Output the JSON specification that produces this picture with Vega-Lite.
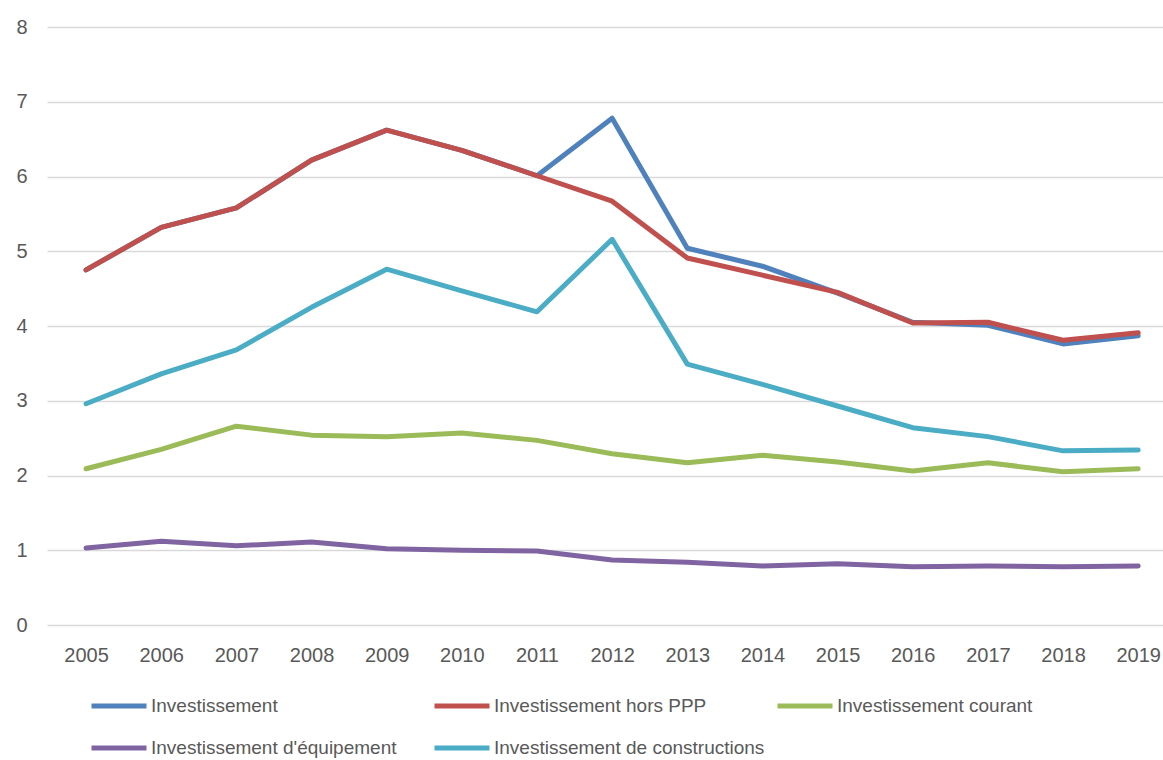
{
  "$schema": "https://vega.github.io/schema/vega-lite/v6.json",
  "width": 1116,
  "height": 598,
  "autosize": {"type": "none"},
  "padding": {"left": 47, "top": 27, "right": 0, "bottom": 135},
  "background": "white",
  "config": {
    "view": {"stroke": null},
    "font": "Liberation Sans",
    "axis": {"labelFont": "Liberation Sans", "labelColor": "#595959", "labelFontSize": 20}
  },
  "data": {
    "values": [
      {"annee": 2005, "serie": "Investissement", "valeur": 4.75},
      {"annee": 2006, "serie": "Investissement", "valeur": 5.32},
      {"annee": 2007, "serie": "Investissement", "valeur": 5.58},
      {"annee": 2008, "serie": "Investissement", "valeur": 6.22},
      {"annee": 2009, "serie": "Investissement", "valeur": 6.62},
      {"annee": 2010, "serie": "Investissement", "valeur": 6.35},
      {"annee": 2011, "serie": "Investissement", "valeur": 6.01},
      {"annee": 2012, "serie": "Investissement", "valeur": 6.78},
      {"annee": 2013, "serie": "Investissement", "valeur": 5.04},
      {"annee": 2014, "serie": "Investissement", "valeur": 4.8},
      {"annee": 2015, "serie": "Investissement", "valeur": 4.44},
      {"annee": 2016, "serie": "Investissement", "valeur": 4.05},
      {"annee": 2017, "serie": "Investissement", "valeur": 4.01},
      {"annee": 2018, "serie": "Investissement", "valeur": 3.76},
      {"annee": 2019, "serie": "Investissement", "valeur": 3.87},
      {"annee": 2005, "serie": "Investissement hors PPP", "valeur": 4.75},
      {"annee": 2006, "serie": "Investissement hors PPP", "valeur": 5.32},
      {"annee": 2007, "serie": "Investissement hors PPP", "valeur": 5.58},
      {"annee": 2008, "serie": "Investissement hors PPP", "valeur": 6.22},
      {"annee": 2009, "serie": "Investissement hors PPP", "valeur": 6.62},
      {"annee": 2010, "serie": "Investissement hors PPP", "valeur": 6.35},
      {"annee": 2011, "serie": "Investissement hors PPP", "valeur": 6.01},
      {"annee": 2012, "serie": "Investissement hors PPP", "valeur": 5.67},
      {"annee": 2013, "serie": "Investissement hors PPP", "valeur": 4.91},
      {"annee": 2014, "serie": "Investissement hors PPP", "valeur": 4.68},
      {"annee": 2015, "serie": "Investissement hors PPP", "valeur": 4.45},
      {"annee": 2016, "serie": "Investissement hors PPP", "valeur": 4.04},
      {"annee": 2017, "serie": "Investissement hors PPP", "valeur": 4.05},
      {"annee": 2018, "serie": "Investissement hors PPP", "valeur": 3.81},
      {"annee": 2019, "serie": "Investissement hors PPP", "valeur": 3.91},
      {"annee": 2005, "serie": "Investissement courant", "valeur": 2.09},
      {"annee": 2006, "serie": "Investissement courant", "valeur": 2.35},
      {"annee": 2007, "serie": "Investissement courant", "valeur": 2.66},
      {"annee": 2008, "serie": "Investissement courant", "valeur": 2.54},
      {"annee": 2009, "serie": "Investissement courant", "valeur": 2.52},
      {"annee": 2010, "serie": "Investissement courant", "valeur": 2.57},
      {"annee": 2011, "serie": "Investissement courant", "valeur": 2.47},
      {"annee": 2012, "serie": "Investissement courant", "valeur": 2.29},
      {"annee": 2013, "serie": "Investissement courant", "valeur": 2.17},
      {"annee": 2014, "serie": "Investissement courant", "valeur": 2.27},
      {"annee": 2015, "serie": "Investissement courant", "valeur": 2.18},
      {"annee": 2016, "serie": "Investissement courant", "valeur": 2.06},
      {"annee": 2017, "serie": "Investissement courant", "valeur": 2.17},
      {"annee": 2018, "serie": "Investissement courant", "valeur": 2.05},
      {"annee": 2019, "serie": "Investissement courant", "valeur": 2.09},
      {"annee": 2005, "serie": "Investissement d'équipement", "valeur": 1.03},
      {"annee": 2006, "serie": "Investissement d'équipement", "valeur": 1.12},
      {"annee": 2007, "serie": "Investissement d'équipement", "valeur": 1.06},
      {"annee": 2008, "serie": "Investissement d'équipement", "valeur": 1.11},
      {"annee": 2009, "serie": "Investissement d'équipement", "valeur": 1.02},
      {"annee": 2010, "serie": "Investissement d'équipement", "valeur": 1.0},
      {"annee": 2011, "serie": "Investissement d'équipement", "valeur": 0.99},
      {"annee": 2012, "serie": "Investissement d'équipement", "valeur": 0.87},
      {"annee": 2013, "serie": "Investissement d'équipement", "valeur": 0.84},
      {"annee": 2014, "serie": "Investissement d'équipement", "valeur": 0.79},
      {"annee": 2015, "serie": "Investissement d'équipement", "valeur": 0.82},
      {"annee": 2016, "serie": "Investissement d'équipement", "valeur": 0.78},
      {"annee": 2017, "serie": "Investissement d'équipement", "valeur": 0.79},
      {"annee": 2018, "serie": "Investissement d'équipement", "valeur": 0.78},
      {"annee": 2019, "serie": "Investissement d'équipement", "valeur": 0.79},
      {"annee": 2005, "serie": "Investissement de constructions", "valeur": 2.96},
      {"annee": 2006, "serie": "Investissement de constructions", "valeur": 3.36},
      {"annee": 2007, "serie": "Investissement de constructions", "valeur": 3.68},
      {"annee": 2008, "serie": "Investissement de constructions", "valeur": 4.25},
      {"annee": 2009, "serie": "Investissement de constructions", "valeur": 4.76},
      {"annee": 2010, "serie": "Investissement de constructions", "valeur": 4.47},
      {"annee": 2011, "serie": "Investissement de constructions", "valeur": 4.19},
      {"annee": 2012, "serie": "Investissement de constructions", "valeur": 5.16},
      {"annee": 2013, "serie": "Investissement de constructions", "valeur": 3.49},
      {"annee": 2014, "serie": "Investissement de constructions", "valeur": 3.22},
      {"annee": 2015, "serie": "Investissement de constructions", "valeur": 2.93},
      {"annee": 2016, "serie": "Investissement de constructions", "valeur": 2.64},
      {"annee": 2017, "serie": "Investissement de constructions", "valeur": 2.52},
      {"annee": 2018, "serie": "Investissement de constructions", "valeur": 2.33},
      {"annee": 2019, "serie": "Investissement de constructions", "valeur": 2.34}
    ]
  },
  "mark": {"type": "line", "strokeWidth": 5, "strokeCap": "round", "strokeJoin": "round"},
  "encoding": {
    "x": {
      "field": "annee", "type": "quantitative",
      "scale": {"domain": [2004.48, 2019.33], "nice": false, "zero": false},
      "axis": {"title": null, "values": [2005,2006,2007,2008,2009,2010,2011,2012,2013,2014,2015,2016,2017,2018,2019], "format": "d", "grid": false, "domain": false, "ticks": false, "labelPadding": 20, "labelFlush": false}
    },
    "y": {
      "field": "valeur", "type": "quantitative",
      "scale": {"domain": [0, 8], "nice": false},
      "axis": {"title": null, "values": [0,1,2,3,4,5,6,7,8], "grid": true, "gridColor": "#d9d9d9", "gridWidth": 1.5, "domain": false, "ticks": false, "labelPadding": 20}
    },
    "color": {
      "field": "serie", "type": "nominal",
      "sort": ["Investissement", "Investissement d'équipement", "Investissement hors PPP", "Investissement de constructions", "Investissement courant"],
      "scale": {
        "domain": ["Investissement", "Investissement d'équipement", "Investissement hors PPP", "Investissement de constructions", "Investissement courant"],
        "range": ["#4F81BD", "#8064A2", "#C0504D", "#4BACC6", "#9BBB59"]
      },
      "legend": {
        "title": null, "orient": "none", "legendX": 42, "legendY": 649,
        "columns": 3, "gridAlign": "all", "columnPadding": 2, "rowPadding": 2,
        "symbolType": "stroke", "symbolSize": 3025, "symbolStrokeWidth": 5,
        "labelFont": "Liberation Sans", "labelFontSize": 19, "labelColor": "#595959",
        "labelOffset": 2, "labelLimit": 400
      }
    }
  }
}
